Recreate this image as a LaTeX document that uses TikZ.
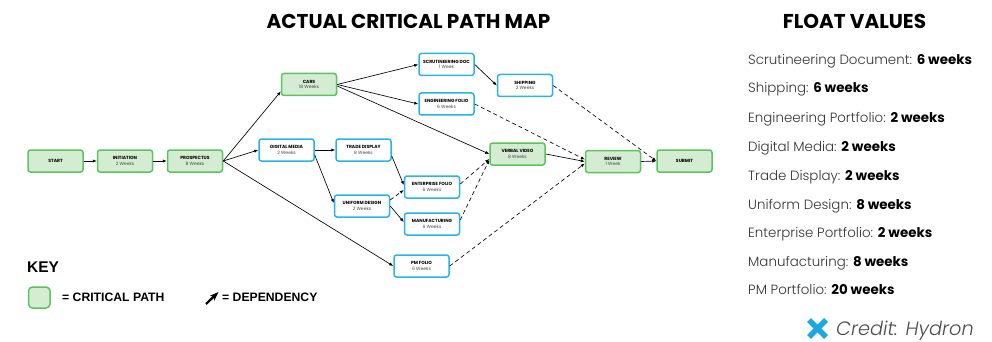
\documentclass[tikz,border=0pt]{standalone}
\usepackage{fontspec}
\setmainfont{Poppins}
\newfontfamily\lightfont{Poppins Light}
\newfontfamily\keyfont{Liberation Sans}
\usetikzlibrary{arrows.meta}
\definecolor{critline}{RGB}{92,196,92}
\definecolor{critfill}{RGB}{212,236,210}
\definecolor{slackline}{RGB}{40,180,230}
\definecolor{subtext}{RGB}{70,70,70}
\definecolor{credblue}{RGB}{27,168,223}
\newcommand{\task}[2]{\textbf{#1}\\[-0.4pt]{\color{subtext}#2}}
\begin{document}
\begin{tikzpicture}[x=1pt,y=-1pt,
  task/.style={rounded corners=2.5pt, line width=1.5pt, minimum width=55pt,
    minimum height=22pt, inner sep=0pt, align=center,
    font=\fontsize{4.5}{5.6}\selectfont},
  crit/.style={task, draw=critline, fill=critfill},
  slack/.style={task, draw=slackline, fill=white},
  dep/.style={-{Latex[length=4pt,width=3.2pt]}, line width=0.65pt},
  floatdep/.style={dep, dash pattern=on 4pt off 3pt},
  heading/.style={font=\fontsize{20}{24}\selectfont\bfseries},
  floatrow/.style={anchor=base west, font=\fontsize{13.4}{16}\selectfont, inner sep=0pt},
  keylabel/.style={anchor=west, inner sep=0pt, font=\keyfont\fontsize{12.2}{14}\selectfont\bfseries}]
\useasboundingbox (0,0) rectangle (992,342);

% headings
\node[heading] (maptitle) at (408.5,21) {ACTUAL CRITICAL PATH MAP};
\node[heading] (floattitle) at (854.5,21) {FLOAT VALUES};

% tasks
\node[crit]  (start)   at (55.5,161)  {\textbf{START}};
\node[crit]  (init)    at (125,161)   {\task{INITIATION}{2 Weeks}};
\node[crit]  (prosp)   at (195,161)   {\task{PROSPECTUS}{8 Weeks}};
\node[crit]  (cars)    at (309,84.5)  {\task{CARS}{18 Weeks}};
\node[slack] (scrut)   at (446.5,64.5){\task{SCRUTINEERING DOC}{1 Week}};
\node[slack] (engfol)  at (446.5,104) {\task{ENGINEERING FOLIO}{6 Weeks}};
\node[slack] (ship)    at (525,85.5)  {\task{SHIPPING}{2 Weeks}};
\node[slack] (digmed)  at (286.5,150) {\task{DIGITAL MEDIA}{2 Weeks}};
\node[slack] (trade)   at (363.5,150) {\task{TRADE DISPLAY}{8 Weeks}};
\node[crit]  (verbal)  at (517.5,154) {\task{VERBAL VIDEO}{8 Weeks}};
\node[slack] (enterp)  at (432,187)   {\task{ENTERPRISE FOLIO}{6 Weeks}};
\node[slack] (uniform) at (362,206)   {\task{UNIFORM DESIGN}{2 Weeks}};
\node[slack] (manuf)   at (432,224)   {\task{MANUFACTURING}{6 Weeks}};
\node[slack] (pm)      at (421.5,266) {\task{PM FOLIO}{6 Weeks}};
\node[crit]  (review)  at (613,161.5) {\task{REVIEW}{1 Week}};
\node[crit]  (submit)  at (684.5,161) {\textbf{SUBMIT}};

% dependencies
\draw[dep] (start.east) -- (init.west);
\draw[dep] (init.east) -- (prosp.west);
\draw[dep] (prosp.east) -- ([yshift=-7pt]cars.west);
\draw[dep] (prosp.east) -- (digmed.west);
\draw[dep] (prosp.east) -- (pm.west);
\draw[dep] (cars.east) -- (scrut.west);
\draw[dep] (cars.east) -- (engfol.west);
\draw[dep] ([yshift=-1.5pt]cars.east) -- (verbal.west);
\draw[dep] (scrut.east) -- (ship.west);
\draw[dep] (digmed.east) -- (trade.west);
\draw[dep] ([yshift=-5pt]digmed.east) -- ([yshift=3pt]uniform.west);
\draw[dep] ([yshift=-6pt]trade.east) -- ([yshift=2pt]enterp.west);
\draw[dep] (uniform.east) -- ([yshift=2pt]manuf.west);
\draw[dep] (verbal.east) -- (review.west);
\draw[dep] (review.east) -- (submit.west);

% float links
\draw[floatdep] ([yshift=6pt]uniform.east) -- ([yshift=-3pt]enterp.west);
\draw[floatdep] ([yshift=3pt]enterp.east) -- ([yshift=-5pt]verbal.west);
\draw[floatdep] ([yshift=4pt]manuf.east) -- ([yshift=-6pt]verbal.west);
\draw[floatdep] (pm.east) -- ([yshift=-2pt]review.west);
\draw[floatdep] (engfol.east) -- ([yshift=2pt]review.west);
\draw[floatdep] (ship.east) -- (submit.west);

% key
\node[anchor=west, inner sep=0pt, font=\keyfont\fontsize{15.5}{18}\selectfont\bfseries] (keytitle) at (27,267.5) {KEY};
\draw[draw=critline, fill=critfill, line width=1.5pt, rounded corners=4pt] (28.5,287) rectangle (50,308);
\node[keylabel] (keycrit) at (62,297.5) {= CRITICAL PATH};
\draw[-{Stealth[length=9pt,width=6.5pt]}, line width=2.2pt] (206,304) -- (218.5,292);
\node[keylabel] (keydep) at (222,297.5) {= DEPENDENCY};

% float values
\begin{scope}[every node/.style={floatrow}]
\node (f1) at (748,65)  {{\lightfont\color{black!80}Scrutineering Document:} \textbf{6 weeks}};
\node (f2) at (748,93)  {{\lightfont\color{black!80}Shipping:} \textbf{6 weeks}};
\node (f3) at (748,122) {{\lightfont\color{black!80}Engineering Portfolio:} \textbf{2 weeks}};
\node (f4) at (748,151) {{\lightfont\color{black!80}Digital Media:} \textbf{2 weeks}};
\node (f5) at (748,180) {{\lightfont\color{black!80}Trade Display:} \textbf{2 weeks}};
\node (f6) at (748,209) {{\lightfont\color{black!80}Uniform Design:} \textbf{8 weeks}};
\node (f7) at (748,237) {{\lightfont\color{black!80}Enterprise Portfolio:} \textbf{2 weeks}};
\node (f8) at (748,266) {{\lightfont\color{black!80}Manufacturing:} \textbf{8 weeks}};
\node (f9) at (748,294) {{\lightfont\color{black!80}PM Portfolio:} \textbf{20 weeks}};
\end{scope}

% credit
\draw[credblue, line width=5.5pt] (809,320) -- (826,337) (826,320) -- (809,337);
\node[anchor=base west, inner sep=0pt, font=\lightfont\itshape\fontsize{19.3}{22}\selectfont, text=black!70] (credit) at (836,335) {Credit: Hydron};
\end{tikzpicture}
\end{document}
